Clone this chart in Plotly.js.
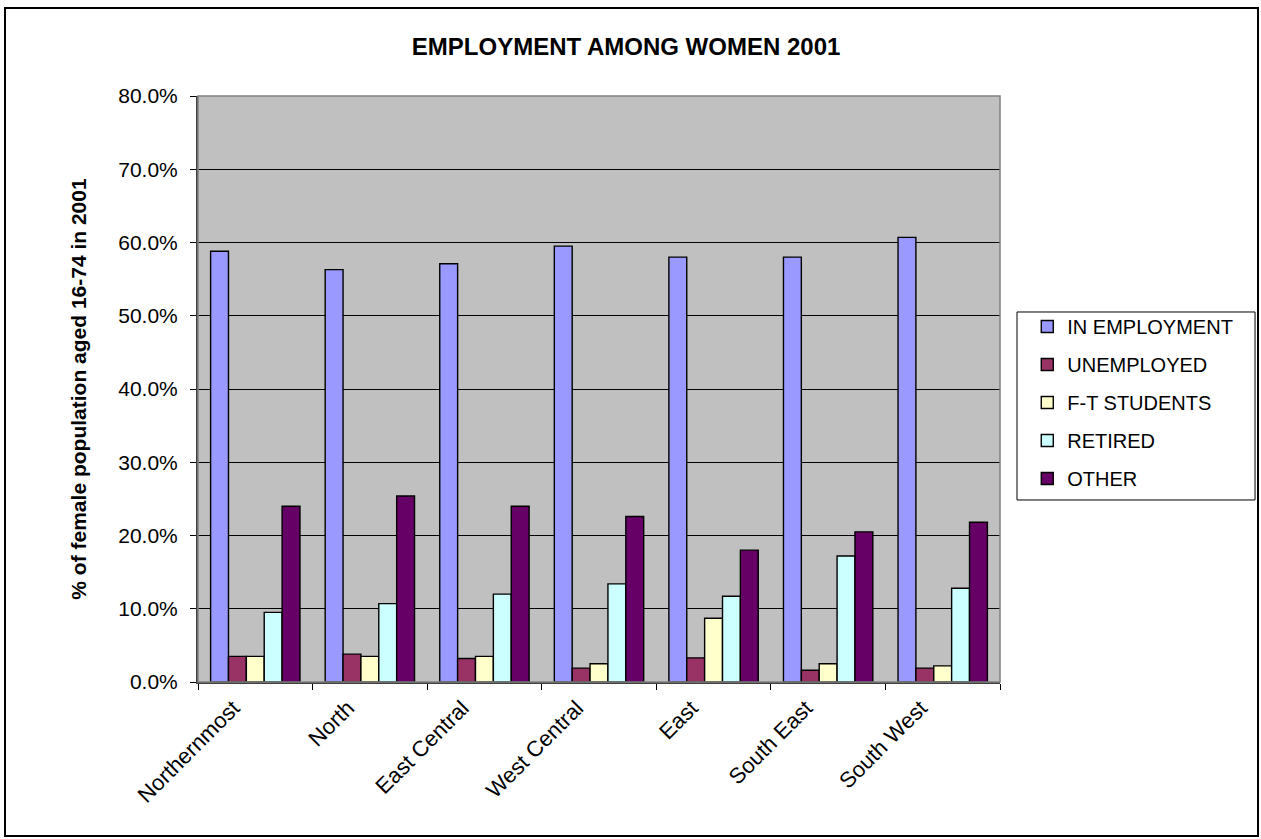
<!DOCTYPE html>
<html>
<head>
<meta charset="utf-8">
<script src="https://cdn.plot.ly/plotly-3.0.1.min.js"></script>
<style>
  html, body { margin: 0; padding: 0; background: #ffffff; }
  #wrap { position: relative; width: 1261px; height: 839px; }
  #chart { position: absolute; left: 0; top: 0; width: 1261px; height: 839px; }
  #frame { position: absolute; left: 4px; top: 7px; width: 1251px; height: 826px; border: 2px solid #000; pointer-events: none; }
</style>
</head>
<body>
<div id="wrap">
  <div id="chart"></div>
  <div id="frame"></div>
</div>
<script>
const categories = ["Northernmost", "North", "East Central", "West Central", "East", "South East", "South West"];
const seriesNames = ["IN EMPLOYMENT", "UNEMPLOYED", "F-T STUDENTS", "RETIRED", "OTHER"];
const inEmployment = [0.588, 0.563, 0.571, 0.595, 0.580, 0.580, 0.607];
const unemployed   = [0.035, 0.038, 0.032, 0.019, 0.033, 0.016, 0.019];
const ftStudents   = [0.035, 0.035, 0.035, 0.025, 0.087, 0.025, 0.022];
const retired      = [0.095, 0.107, 0.120, 0.134, 0.117, 0.172, 0.128];
const other        = [0.240, 0.254, 0.240, 0.226, 0.180, 0.205, 0.218];
const seriesColors = ["#9999FF", "#993366", "#FFFFCC", "#CCFFFF", "#660066"];
const yTickVals = [0, 0.1, 0.2, 0.3, 0.4, 0.5, 0.6, 0.7, 0.8];

const seriesValues = [inEmployment, unemployed, ftStudents, retired, other];
const FONT = "Liberation Sans, Arial, sans-serif";

const traces = seriesValues.map((vals, i) => ({
  type: "bar",
  name: seriesNames[i],
  x: categories,
  y: vals,
  legendgroup: "g" + i,
  marker: { color: seriesColors[i], line: { color: "#000000", width: 1.4 } },
  hoverinfo: "x+y+name"
}));

const layout = {
  width: 1261,
  height: 839,
  paper_bgcolor: "#ffffff",
  plot_bgcolor: "#C0C0C0",
  margin: { l: 198, r: 261, t: 96, b: 157, pad: 0 },
  barmode: "group",
  bargap: 0.22,
  bargroupgap: 0,
  font: { family: FONT, color: "#000000" },
  title: {
    text: "<b>EMPLOYMENT AMONG WOMEN 2001</b>",
    font: { family: FONT, size: 24, color: "#000000" },
    x: 0.4965, xref: "container", xanchor: "center",
    y: 0.944, yref: "container", yanchor: "middle"
  },
  xaxis: {
    type: "category",
    tickangle: -45,
    tickfont: { family: FONT, size: 22, color: "#000000" },
    ticks: "outside",
    tickson: "boundaries",
    ticklen: 6,
    tickcolor: "#000000",
    ticklabelshift: -22,
    ticklabelstandoff: 3,
    showline: true,
    linecolor: "#404040",
    linewidth: 1.5,
    showgrid: false,
    automargin: false,
    fixedrange: true
  },
  yaxis: {
    range: [0, 0.8],
    tickvals: yTickVals,
    tickformat: ".1%",
    tickfont: { family: FONT, size: 21, color: "#000000" },
    ticks: "outside",
    ticklen: 6,
    tickcolor: "#000000",
    ticklabelstandoff: 8,
    showline: true,
    linecolor: "#404040",
    linewidth: 2,
    showgrid: true,
    gridcolor: "#000000",
    gridwidth: 1,
    zeroline: false,
    automargin: false,
    fixedrange: true,
    title: {
      text: "<b>% of female population aged 16-74 in 2001</b>",
      font: { family: FONT, size: 21, color: "#000000" },
      standoff: 26
    }
  },
  showlegend: true,
  legend: {
    x: 1.034, xanchor: "left",
    y: 0.640, yanchor: "top",
    bgcolor: "rgba(0,0,0,0)",
    borderwidth: 0,
    font: { family: FONT, size: 20, color: "#000000" },
    tracegroupgap: 9,
    traceorder: "grouped",
    itemwidth: 30
  },
  shapes: [
    { type: "rect", xref: "paper", yref: "paper", x0: 0, x1: 1, y0: 0, y1: 1,
      line: { color: "#808080", width: 1.5 }, fillcolor: "rgba(0,0,0,0)", layer: "above" },
    { type: "rect", xref: "paper", yref: "paper", x0: 1.0212, x1: 1.318, y0: 0.3106, y1: 0.6314,
      line: { color: "#000000", width: 1 }, fillcolor: "#ffffff", layer: "below" }
  ]
};

Plotly.newPlot("chart", traces, layout, { displayModeBar: false, staticPlot: true });
</script>
</body>
</html>
